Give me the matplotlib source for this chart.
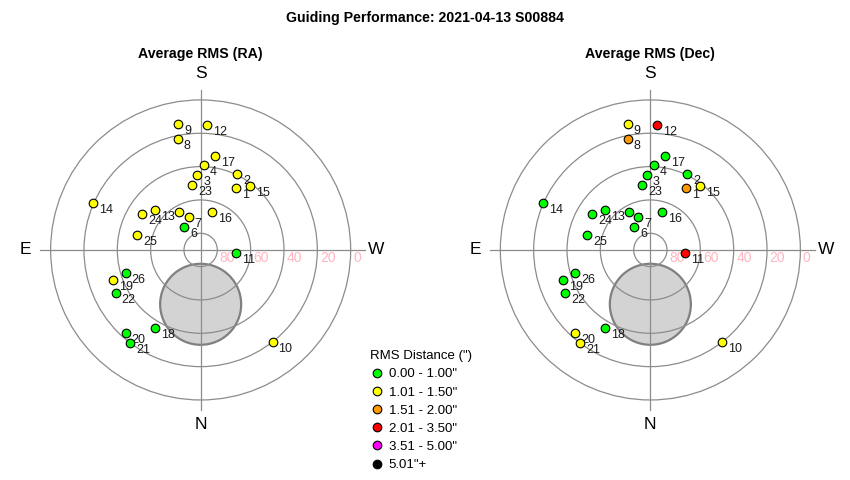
import numpy as np
import matplotlib.pyplot as plt
from matplotlib.lines import Line2D
from matplotlib.patches import Circle

plt.rcParams['font.family'] = ['Liberation Sans', 'DejaVu Sans']

# guide points, numbered 1..26 : altitude / azimuth in degrees (az from N through E)
point_num = list(range(1, 27))
point_alt = [47.3, 39.6, 45.2, 39.2, 63.9, 73.1, 68.9, 22.2, 13.4, 19.9, 68.9, 14.9, 53.7,
             19.5, 41.4, 66.3, 33.1, 35.7, 34.5, 22.9, 19.9, 32.9, 50.9, 48.9, 51.0, 42.9]
point_az = [210.0, 205.9, 177.4, 182.3, 150.7, 144.6, 160.0, 168.4, 169.8, 322.0, 275.4, 183.1, 131.4,
            113.6, 217.8, 197.2, 188.7, 30.1, 70.8, 42.1, 37.0, 63.3, 172.7, 121.7, 103.0, 72.9]

# rms class of each point (index into the legend bins)
ra_class = [1, 1, 1, 1, 1, 0, 1, 1, 1, 1, 0, 1, 1, 1, 1, 1, 1, 0, 1, 0, 0, 0, 1, 1, 1, 0]
dec_class = [2, 0, 0, 0, 0, 0, 0, 2, 1, 1, 3, 3, 0, 0, 1, 0, 0, 0, 0, 1, 1, 0, 0, 0, 0, 0]

bin_labels = ['0.00 - 1.00"', '1.01 - 1.50"', '1.51 - 2.00"', '2.01 - 3.50"', '3.51 - 5.00"', '5.01"+']
bin_colors = ['#00ff00', '#ffff00', '#ff9900', '#ff0000', '#ff00ff', '#000000']

ring_alts = [80, 60, 40, 20, 0]

# grey disc (pole region)
disc_alt = 57.4
disc_az = 0.0
disc_radius = 24.3


def to_xy(alt, az):
    z = 90.0 - np.asarray(alt)
    a = np.radians(np.asarray(az))
    return -z * np.sin(a), -z * np.cos(a)


fig = plt.figure(figsize=(8.5, 4.8), dpi=100)
fig.text(0.5, 1 - 18 / 480, 'Guiding Performance: 2021-04-13 S00884', ha='center', va='center',
         fontsize=10.2, fontweight='bold')

xs, ys = to_xy(point_alt, point_az)


def sky_chart(ax, classes, title):
    ax.set_xlim(-110, 110)
    ax.set_ylim(-110, 122)
    ax.axis('off')

    dx, dy = to_xy(disc_alt, disc_az)
    ax.add_patch(Circle((dx, dy), disc_radius, facecolor='#d3d3d3', edgecolor='#808080', lw=1.6, zorder=1))

    for alt in ring_alts:
        ax.add_patch(Circle((0, 0), 90 - alt, fill=False, edgecolor='#8c8c8c', lw=0.9, zorder=2))
        ax.text(90 - alt + 1.5, -0.8, str(alt), color='#ffb6c1', fontsize=10, ha='left', va='top', zorder=2)
    ax.plot([-96.5, 98.5], [0, 0], color='#8c8c8c', lw=0.9, zorder=2)
    ax.plot([0, 0], [-96, 96], color='#8c8c8c', lw=0.9, zorder=2)

    ax.text(0, 106, 'S', fontsize=12.5, ha='center', va='center')
    ax.text(0, -105, 'N', fontsize=12.5, ha='center', va='center')
    ax.text(-105, 0, 'E', fontsize=12.5, ha='center', va='center')
    ax.text(105.5, 0, 'W', fontsize=12.5, ha='center', va='center')
    ax.text(0, 117.6, title, fontsize=10.2, fontweight='bold', ha='center', va='center')

    for i in range(len(point_num)):
        ax.plot(xs[i], ys[i], 'o', ms=6.2, mfc=bin_colors[classes[i]], mec='black', mew=0.8, zorder=3 + 2 * i)
        ax.annotate(str(point_num[i]), (xs[i], ys[i]), xytext=(4.3, -5), textcoords='offset points',
                    ha='left', va='center', fontsize=9, color='#1a1a1a', zorder=4 + 2 * i)


w = 366.7 / 850
h = 386.7 / 480
b = (480 - 433.3) / 480
ax1 = fig.add_axes([17.3 / 850, b, w, h])
ax2 = fig.add_axes([(650.3 - 183.3) / 850, b, w, h])
sky_chart(ax1, ra_class, 'Average RMS (RA)')
sky_chart(ax2, dec_class, 'Average RMS (Dec)')

handles = [Line2D([], [], ls='none', marker='o', ms=6.2, mfc=c, mec='black', mew=0.8) for c in bin_colors]
fig.legend(handles, bin_labels, title='RMS Distance (")', loc='upper left',
           bbox_to_anchor=(361 / 850, 1 - 341 / 480), frameon=False, fontsize=9.5, title_fontsize=9.5,
           handlelength=1.0, handletextpad=0.4, labelspacing=0.45, borderpad=0.2, alignment='left')

fig.savefig('out.png', dpi=100)
